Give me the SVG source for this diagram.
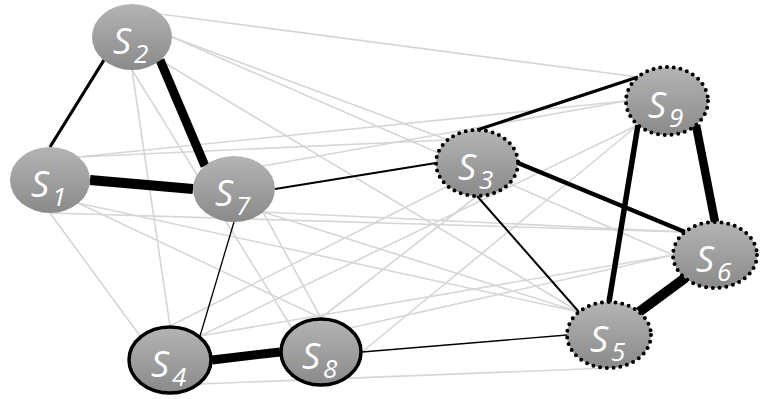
<svg xmlns="http://www.w3.org/2000/svg" width="760" height="399" viewBox="0 0 760 399">
<defs>
<linearGradient id="g" x1="0" y1="0" x2="0" y2="1">
<stop offset="0" stop-color="#b4b4b4"/>
<stop offset="1" stop-color="#8a8a8a"/>
</linearGradient>
<style>
.bg{fill:#fff}
.n{fill:url(#g)}
.solid{stroke:#000;stroke-width:3.5}
.dot{stroke:#000;stroke-width:4;stroke-dasharray:0 6.8;stroke-linecap:round}
.gl{stroke:#d6d6d6;stroke-width:1.6;fill:none}
.bl{stroke:#000;fill:none}
text{fill:#fff;font-family:"Open Sans","Liberation Sans",sans-serif;font-style:italic}
.s{font-size:36px}
.d{font-size:26px}
</style>
</defs>
<rect class="bg" x="0" y="0" width="760" height="399"/>
<g id="connectors">
<g id="weak">
<line class="gl" x1="160" y1="14" x2="638" y2="77"/>
<line class="gl" x1="78" y1="157" x2="626" y2="101"/>
<line class="gl" x1="263" y1="166" x2="626" y2="101"/>
<line class="gl" x1="200" y1="336" x2="638" y2="125"/>
<line class="gl" x1="362" y1="352" x2="638" y2="125"/>
<line class="gl" x1="78" y1="157" x2="448" y2="140"/>
<line class="gl" x1="172" y1="37" x2="448" y2="140"/>
<line class="gl" x1="170" y1="326" x2="448" y2="186"/>
<line class="gl" x1="477" y1="196" x2="321" y2="318"/>
<line class="gl" x1="50" y1="213" x2="685" y2="232"/>
<line class="gl" x1="172" y1="37" x2="673" y2="255"/>
<line class="gl" x1="200" y1="336" x2="673" y2="255"/>
<line class="gl" x1="263" y1="212" x2="685" y2="232"/>
<line class="gl" x1="350" y1="328" x2="673" y2="255"/>
<line class="gl" x1="78" y1="203" x2="579" y2="312"/>
<line class="gl" x1="160" y1="60" x2="579" y2="312"/>
<line class="gl" x1="263" y1="212" x2="579" y2="312"/>
<line class="gl" x1="263" y1="212" x2="321" y2="318"/>
<line class="gl" x1="132" y1="70" x2="292" y2="328"/>
<line class="gl" x1="132" y1="70" x2="170" y2="326"/>
<line class="gl" x1="50" y1="213" x2="140" y2="336"/>
<line class="gl" x1="200" y1="384" x2="609" y2="368"/>
<line class="gl" x1="78" y1="203" x2="321" y2="318"/>
</g>
<g id="strong">
<line class="bl" stroke-width="3.2" x1="50" y1="147" x2="104" y2="60"/>
<line class="bl" stroke-width="9" x1="160" y1="60" x2="205" y2="166"/>
<line class="bl" stroke-width="10" x1="90" y1="180" x2="193" y2="189"/>
<line class="bl" stroke-width="2" x1="275" y1="189" x2="436" y2="163"/>
<line class="bl" stroke-width="1.3" x1="234" y1="222" x2="200" y2="336"/>
<line class="bl" stroke-width="9" x1="212" y1="360" x2="280" y2="352"/>
<line class="bl" stroke-width="1.4" x1="362" y1="352" x2="567" y2="335"/>
<line class="bl" stroke-width="3.2" x1="477" y1="130" x2="638" y2="77"/>
<line class="bl" stroke-width="4.5" x1="518" y1="163" x2="685" y2="232"/>
<line class="bl" stroke-width="2" x1="477" y1="196" x2="579" y2="312"/>
<line class="bl" stroke-width="5.5" x1="638" y1="125" x2="609" y2="302"/>
<line class="bl" stroke-width="8.5" x1="696" y1="125" x2="715" y2="222"/>
<line class="bl" stroke-width="10" x1="685" y1="278" x2="639" y2="312"/>
</g>
</g>
<g id="S1"><ellipse class="n" cx="50" cy="180" rx="40" ry="33"/><text x="31" y="197" class="s">S</text><text x="52" y="206" class="d">1</text></g>
<g id="S2"><ellipse class="n" cx="132" cy="37" rx="40" ry="33"/><text x="113" y="54" class="s">S</text><text x="134" y="63" class="d">2</text></g>
<g id="S7"><ellipse class="n" cx="234" cy="189" rx="41" ry="33"/><text x="215" y="206" class="s">S</text><text x="236" y="215" class="d">7</text></g>
<g id="S3"><ellipse class="n dot" cx="477" cy="163" rx="41" ry="33"/><text x="458" y="180" class="s">S</text><text x="479" y="189" class="d">3</text></g>
<g id="S9"><ellipse class="n dot" cx="667" cy="101" rx="41" ry="34"/><text x="648" y="118" class="s">S</text><text x="669" y="127" class="d">9</text></g>
<g id="S6"><ellipse class="n dot" cx="715" cy="255" rx="42" ry="33"/><text x="696" y="272" class="s">S</text><text x="717" y="281" class="d">6</text></g>
<g id="S5"><ellipse class="n dot" cx="609" cy="335" rx="42" ry="33"/><text x="590" y="352" class="s">S</text><text x="611" y="361" class="d">5</text></g>
<g id="S4"><ellipse class="n solid" cx="170" cy="360" rx="41" ry="33"/><text x="151" y="377" class="s">S</text><text x="172" y="386" class="d">4</text></g>
<g id="S8"><ellipse class="n solid" cx="321" cy="352" rx="40" ry="33"/><text x="302" y="369" class="s">S</text><text x="323" y="378" class="d">8</text></g>
</svg>
